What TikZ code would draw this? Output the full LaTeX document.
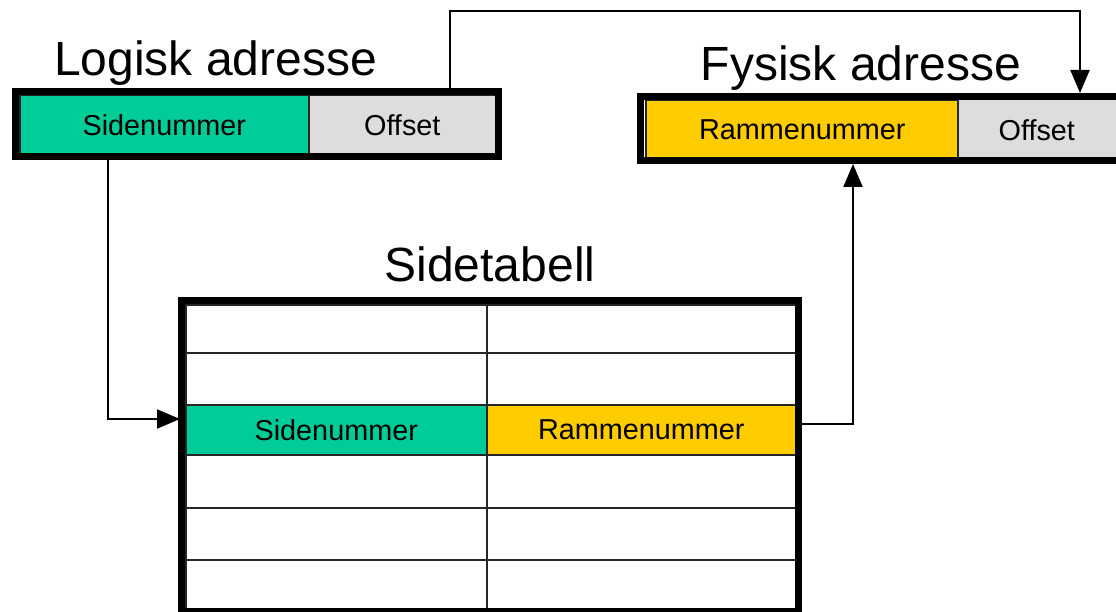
\documentclass[tikz,border=0pt]{standalone}
\usepackage{fontspec}
\setmainfont{Liberation Sans}
\usetikzlibrary{arrows.meta}
\definecolor{sgreen}{HTML}{00CC99}
\definecolor{syellow}{HTML}{FFCC00}
\definecolor{sgray}{HTML}{DDDDDD}
\begin{document}
\begin{tikzpicture}[x=1pt,y=-1pt,
  cell/.style={draw=black!85, line width=1.5pt, inner sep=0pt, anchor=north west,
    font=\fontsize{28.8}{34}\selectfont},
  frame/.style={draw=black, line width=7pt},
  title/.style={anchor=base, inner sep=0pt, font=\fontsize{48}{56}\selectfont},
  conn/.style={draw=black, line width=2pt},
  arr/.style={conn, -{Triangle[length=23pt,width=19pt]}}]
\useasboundingbox (0,0) rectangle (1116,612);
\clip (0,0) rectangle (1116,612);
\fill[white] (0,0) rectangle (1116,612);
% titles
\node[title] (tlog) at (215.5,76) {Logisk adresse};
\node[title] (tfys) at (861,81) {Fysisk adresse};
\node[title] (ttab) at (490,282) {Sidetabell};
% logical address
\node[cell, fill=sgreen, minimum width=289, minimum height=58] (lsid) at (19,95) {Sidenummer};
\node[cell, fill=sgray, minimum width=187, minimum height=58] (loff) at (308,95) {Offset};
\draw[frame] (15.5,91.5) rectangle (498.5,156.5);
% physical address
\node[cell, fill=syellow, minimum width=313, minimum height=58] (pram) at (645,100) {Rammenummer};
\fill[sgray] (958,100) rectangle (1130,158);
\node[cell, fill=sgray, minimum width=156, minimum height=58, draw=none] (poff) at (958,100) {Offset};
\draw[black!85, line width=1.5pt] (958,100) -- (958,158);
\draw[frame] (1130,96.5) -- (640.5,96.5) -- (640.5,160.5) -- (1130,160.5);
% table
\foreach \r/\y/\h in {1/304/48, 2/352/52, 4/454/53, 5/507/52, 6/559/49} {
  \node[cell, fill=white, minimum width=301, minimum height=\h] (t\r1) at (185,\y) {};
  \node[cell, fill=white, minimum width=309, minimum height=\h] (t\r2) at (486,\y) {};
}
\node[cell, fill=sgreen, minimum width=301, minimum height=50] (t31) at (185,404) {Sidenummer};
\node[cell, fill=syellow, minimum width=309, minimum height=50] (t32) at (486,404) {Rammenummer};
\draw[frame] (181.5,300.5) rectangle (798.5,611.5);
% connector end points
\coordinate (lsOut) at (108,160);
\coordinate (tabIn) at (180,419);
\coordinate (offOut) at (450,88);
\coordinate (physIn) at (1080,93);
\coordinate (ramOut) at (802,424);
\coordinate (physUp) at (853,164);
% connectors
\draw[arr] (lsOut) |- (tabIn);
\draw[arr] (offOut) -- (offOut |- 0,11) -| (physIn);
\draw[arr] (ramOut) -| (physUp);
\end{tikzpicture}
\end{document}
